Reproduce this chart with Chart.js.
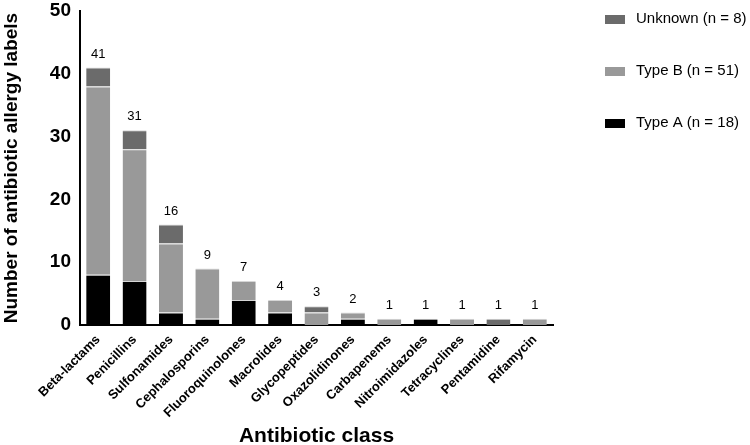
<!DOCTYPE html>
<html><head><meta charset="utf-8">
<script src="https://cdn.jsdelivr.net/npm/chart.js@4/dist/chart.umd.min.js"></script>
<style>html,body{margin:0;padding:0;background:#fff}#wrap{width:750px;height:445px;position:relative}</style>
</head><body><div id="wrap"><canvas id="c" width="750" height="445"></canvas></div>
<script>
const categories = ["Beta-lactams","Penicillins","Sulfonamides","Cephalosporins","Fluoroquinolones","Macrolides","Glycopeptides","Oxazolidinones","Carbapenems","Nitroimidazoles","Tetracyclines","Pentamidine","Rifamycin"];
const typeA   = [8, 7, 2, 1, 4, 2, 0, 1, 0, 1, 0, 0, 0];
const typeB   = [30, 21, 11, 8, 3, 2, 2, 1, 1, 0, 1, 0, 1];
const unknown = [3, 3, 3, 0, 0, 0, 1, 0, 0, 0, 0, 1, 0];
const yTicks = [0, 10, 20, 30, 40, 50];
const seriesNames = ["Type A (n = 18)", "Type B (n = 51)", "Unknown (n = 8)"];

const FONT = "'Liberation Sans', Arial, sans-serif";

const totalsPlugin = {
  id: 'totals',
  afterDatasetsDraw(chart) {
    const ctx = chart.ctx;
    const y = chart.scales.y;
    const meta = chart.getDatasetMeta(0);
    ctx.save();
    ctx.font = "13px " + FONT;
    ctx.fillStyle = '#000';
    ctx.textAlign = 'center';
    ctx.textBaseline = 'bottom';
    categories.forEach((c, i) => {
      const total = typeA[i] + typeB[i] + unknown[i];
      ctx.fillText(String(total), meta.data[i].x, y.getPixelForValue(total) - 7);
    });
    ctx.restore();
  }
};

const legendPlugin = {
  id: 'customLegend',
  afterDraw(chart) {
    const ctx = chart.ctx;
    const items = [
      {name: seriesNames[2], color: '#6b6b6b'},
      {name: seriesNames[1], color: '#999999'},
      {name: seriesNames[0], color: '#000000'}
    ];
    ctx.save();
    ctx.font = "15px " + FONT;
    ctx.textBaseline = 'middle';
    ctx.textAlign = 'left';
    items.forEach((it, k) => {
      const yy = 19 + k * 52;
      ctx.fillStyle = it.color;
      ctx.fillRect(605, yy - 4, 20, 9);
      ctx.fillStyle = '#000';
      ctx.fillText(it.name, 636, yy);
    });
    ctx.restore();
  }
};

new Chart(document.getElementById('c'), {
  type: 'bar',
  data: {
    labels: categories,
    datasets: [
      {label: seriesNames[0], data: typeA, backgroundColor: '#000000', borderColor: '#d6d6d6', borderWidth: {top: 1}, borderSkipped: false},
      {label: seriesNames[1], data: typeB, backgroundColor: '#999999', borderColor: '#d6d6d6', borderWidth: {top: 1}, borderSkipped: false},
      {label: seriesNames[2], data: unknown, backgroundColor: '#6b6b6b', borderColor: '#d6d6d6', borderWidth: {top: 1}, borderSkipped: false}
    ]
  },
  options: {
    responsive: false,
    animation: false,
    devicePixelRatio: 1,
    layout: {padding: {left: 0, right: 197, top: 0, bottom: 0}},
    plugins: {legend: {display: false}, tooltip: {enabled: false}},
    datasets: {bar: {barPercentage: 0.66, categoryPercentage: 1.0}},
    scales: {
      x: {
        stacked: true,
        offset: true,
        afterFit(scale) { scale.height = 120; },
        grid: {display: false, drawOnChartArea: false, drawTicks: true, tickLength: 5, tickWidth: 2, tickColor: '#000'},
        border: {display: true, color: '#000', width: 2},
        ticks: {minRotation: 45, maxRotation: 45, color: '#000', font: {family: FONT, size: 13, weight: 'bold'}, padding: 2, autoSkip: false},
        title: {display: true, text: 'Antibiotic class', color: '#000', font: {family: FONT, size: 21, weight: 'bold', lineHeight: 0.8}, padding: {top: 0, bottom: 0}}
      },
      y: {
        stacked: true,
        min: 0, max: 50,
        afterFit(scale) { scale.width = 80; },
        afterBuildTicks(scale) { scale.ticks = yTicks.map(v => ({value: v})); },
        grid: {display: false, drawOnChartArea: false, drawTicks: true, tickLength: 6, tickWidth: 2, tickColor: '#000'},
        border: {display: true, color: '#000', width: 2},
        ticks: {color: '#000', font: {family: FONT, size: 19, weight: 'bold', lineHeight: 0.85}, padding: 3},
        title: {display: true, text: 'Number of antibiotic allergy labels', color: '#000', font: {family: FONT, size: 19, weight: 'bold'}, padding: {top: 0, bottom: 0}}
      }
    }
  },
  plugins: [totalsPlugin, legendPlugin]
});
</script></body></html>
